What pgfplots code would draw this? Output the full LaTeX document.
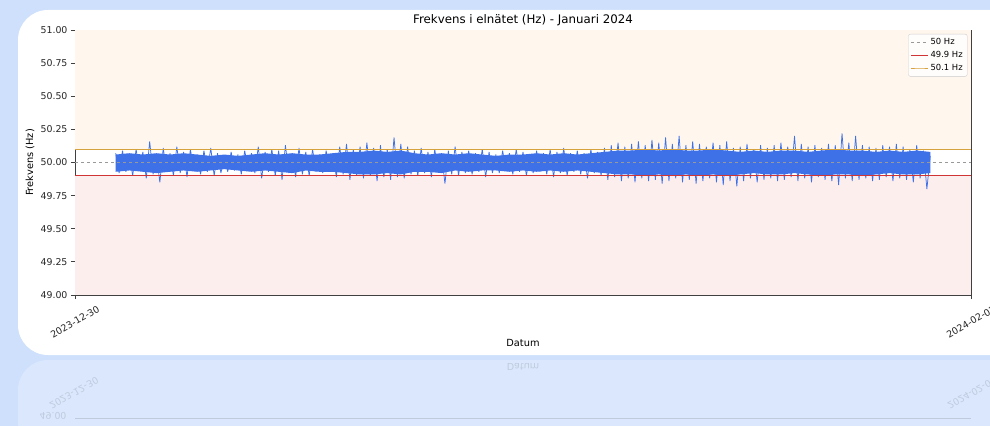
\documentclass[border=0pt]{standalone}
\usepackage{pgfplots}
\pgfplotsset{compat=1.18}
\usepackage{fontspec}
\setmainfont{DejaVu Sans}
\definecolor{bgblue}{RGB}{206,224,252}
\definecolor{dataline}{RGB}{62,112,232}
\definecolor{hiband}{RGB}{255,247,237}
\definecolor{loband}{RGB}{253,238,238}
\definecolor{hiline}{RGB}{214,162,62}
\definecolor{loline}{RGB}{208,52,52}
\begin{document}
\begin{tikzpicture}[x=1pt,y=1pt]
\path[use as bounding box] (0,0) rectangle (990,426);
\fill[bgblue] (0,0) rectangle (990,426);
\fill[white, opacity=0.25, rounded corners=30pt] (18,-60) rectangle (1020,66);
\fill[white, rounded corners=30pt] (18,71) rectangle (1020,416);
\begin{scope}[opacity=0.12]
  \node[yscale=-1, font=\fontsize{9.6}{11}\selectfont] at (523,59) {Datum};
  \node[yscale=-1, rotate=-30, font=\fontsize{9.4}{11}\selectfont] at (74,33) {2023-12-30};
  \node[yscale=-1, rotate=-30, font=\fontsize{9.4}{11}\selectfont] at (972,33) {2024-02-01};
  \node[yscale=-1, font=\fontsize{9.4}{11}\selectfont, anchor=east] at (70,10) {49.00};
  \draw[black, line width=0.8pt] (75,8) -- (971,8);
\end{scope}
\begin{axis}[
  at={(75pt,131pt)}, anchor=south west,
  scale only axis, width=896pt, height=265pt,
  xmin=0, xmax=33, ymin=49, ymax=51,
  xtick={0,33}, xticklabels={2023-12-30,2024-02-01},
  ytick={49,49.25,49.5,49.75,50,50.25,50.5,50.75,51},
  yticklabel style={/pgf/number format/.cd, fixed, fixed zerofill, precision=2, assume math mode=true},
  ticklabel style={font=\fontsize{9.4}{11}\selectfont, text=black!85},
  xticklabel style={rotate=30, anchor=center, xshift=-11.5pt, yshift=-19.9pt},
  tick align=outside, xtick pos=lower, ytick pos=left,
  major tick length=4pt,
  tick style={black!75, line width=0.8pt},
  axis line style={black!75, line width=0.8pt},
  title={Frekvens i elnätet (Hz) - Januari 2024},
  title style={at={(axis description cs:0.5,1)}, anchor=center, yshift=4pt, font=\fontsize{11.8}{13}\selectfont},
  xlabel={Datum},
  xlabel style={at={(axis description cs:0.5,0)}, anchor=center, yshift=-48pt, font=\fontsize{9.8}{11}\selectfont},
  ylabel={Frekvens (Hz)},
  ylabel style={at={(axis description cs:-0.0502,0.5)}, anchor=center, font=\fontsize{9.8}{11}\selectfont},
  legend style={at={(axis description cs:0.996,0.985)}, anchor=north east,
    font=\fontsize{8.4}{10}\selectfont, draw=black!20, rounded corners=2pt,
    fill=white, fill opacity=0.85, text opacity=1, row sep=1pt,
    inner sep=2.5pt},
  legend cell align=left,
]
\addplot[draw=none, fill=hiband, forget plot] coordinates {(0,50.1) (33,50.1) (33,51) (0,51)} -- cycle;
\addplot[draw=none, fill=loband, forget plot] coordinates {(0,49) (33,49) (33,49.9) (0,49.9)} -- cycle;
% dense core of the signal: upper envelope left to right, lower envelope right to left
\addplot[draw=none, fill=dataline, forget plot] coordinates {
(1.5,50.06)(2,50.07)(2.5,50.06)(3,50.07)(3.5,50.06)(4,50.07)(4.5,50.06)(5,50.05)(5.5,50.06)(6,50.05)
(6.5,50.06)(7,50.07)(7.5,50.06)(8,50.07)(8.5,50.06)(9,50.06)(9.5,50.07)(10,50.08)(10.5,50.08)(11,50.09)
(11.5,50.08)(12,50.09)(12.5,50.07)(13,50.06)(13.5,50.07)(14,50.06)(14.5,50.07)(15,50.06)(15.5,50.05)(16,50.06)
(16.5,50.06)(17,50.07)(17.5,50.06)(18,50.07)(18.5,50.06)(19,50.07)(19.5,50.08)(20,50.09)(20.5,50.09)(21,50.10)
(21.5,50.09)(22,50.10)(22.5,50.09)(23,50.09)(23.5,50.10)(24,50.09)(24.5,50.08)(25,50.09)(25.5,50.08)(26,50.09)
(26.5,50.09)(27,50.08)(27.5,50.09)(28,50.10)(28.5,50.09)(29,50.09)(29.5,50.08)(30,50.09)(30.5,50.08)(31,50.09)(31.5,50.08)
(31.5,49.92)(31,49.91)(30.5,49.91)(30,49.92)(29.5,49.91)(29,49.90)(28.5,49.91)(28,49.91)(27.5,49.90)(27,49.91)
(26.5,49.92)(26,49.91)(25.5,49.91)(25,49.92)(24.5,49.91)(24,49.90)(23.5,49.91)(23,49.90)(22.5,49.91)(22,49.90)
(21.5,49.91)(21,49.90)(20.5,49.91)(20,49.91)(19.5,49.92)(19,49.93)(18.5,49.94)(18,49.93)(17.5,49.94)(17,49.93)
(16.5,49.94)(16,49.93)(15.5,49.94)(15,49.94)(14.5,49.93)(14,49.94)(13.5,49.92)(13,49.93)(12.5,49.93)(12,49.91)
(11.5,49.92)(11,49.91)(10.5,49.91)(10,49.92)(9.5,49.93)(9,49.93)(8.5,49.94)(8,49.92)(7.5,49.93)(7,49.94)
(6.5,49.93)(6,49.94)(5.5,49.95)(5,49.94)(4.5,49.93)(4,49.94)(3.5,49.93)(3,49.92)(2.5,49.93)(2,49.94)(1.5,49.93)
} -- cycle;
\addplot[dataline, line width=0.75pt, line join=bevel, forget plot] coordinates {
(1.5,50.07)(1.625,49.92)(1.75,50.09)(1.875,49.93)(2,50.05)(2.125,49.90)(2.25,50.10)(2.375,49.94)
(2.5,50.08)(2.625,49.88)(2.75,50.16)(2.875,49.91)(3,50.06)(3.125,49.85)(3.25,50.11)(3.375,49.93)
(3.5,50.07)(3.625,49.90)(3.75,50.12)(3.875,49.92)(4,50.08)(4.125,49.89)(4.25,50.10)(4.375,49.94)
(4.5,50.06)(4.625,49.91)(4.75,50.09)(4.875,49.93)(5,50.11)(5.125,49.90)(5.25,50.07)(5.375,49.92)
(5.5,50.05)(5.625,49.93)(5.75,50.08)(5.875,49.94)(6,50.06)(6.125,49.91)(6.25,50.09)(6.375,49.95)
(6.5,50.07)(6.625,49.92)(6.75,50.12)(6.875,49.88)(7,50.08)(7.125,49.93)(7.25,50.10)(7.375,49.90)
(7.5,50.09)(7.625,49.87)(7.75,50.13)(7.875,49.92)(8,50.07)(8.125,49.89)(8.25,50.11)(8.375,49.91)
(8.5,50.08)(8.625,49.90)(8.75,50.10)(8.875,49.93)(9,50.06)(9.125,49.92)(9.25,50.09)(9.375,49.94)
(9.5,50.07)(9.625,49.89)(9.75,50.12)(9.875,49.91)(10,50.14)(10.125,49.87)(10.25,50.10)(10.375,49.90)
(10.5,50.12)(10.625,49.88)(10.75,50.15)(10.875,49.90)(11,50.11)(11.125,49.86)(11.25,50.13)(11.375,49.89)
(11.5,50.10)(11.625,49.87)(11.75,50.19)(11.875,49.89)(12,50.14)(12.125,49.88)(12.25,50.12)(12.375,49.91)
(12.5,50.09)(12.625,49.90)(12.75,50.11)(12.875,49.92)(13,50.08)(13.125,49.89)(13.25,50.10)(13.375,49.93)
(13.5,50.07)(13.625,49.84)(13.75,50.09)(13.875,49.91)(14,50.12)(14.125,49.90)(14.25,50.08)(14.375,49.92)
(14.5,50.09)(14.625,49.91)(14.75,50.07)(14.875,49.93)(15,50.10)(15.125,49.89)(15.25,50.08)(15.375,49.92)
(15.5,50.06)(15.625,49.92)(15.75,50.09)(15.875,49.94)(16,50.07)(16.125,49.91)(16.25,50.10)(16.375,49.93)
(16.5,50.08)(16.625,49.90)(16.75,50.06)(16.875,49.92)(17,50.09)(17.125,49.93)(17.25,50.07)(17.375,49.91)
(17.5,50.10)(17.625,49.89)(17.75,50.08)(17.875,49.92)(18,50.11)(18.125,49.90)(18.25,50.07)(18.375,49.93)
(18.5,50.09)(18.625,49.91)(18.75,50.07)(18.875,49.88)(19,50.10)(19.125,49.92)(19.25,50.08)(19.375,49.90)
(19.5,50.11)(19.625,49.87)(19.75,50.13)(19.875,49.89)(20,50.15)(20.125,49.86)(20.25,50.12)(20.375,49.88)
(20.5,50.14)(20.625,49.85)(20.75,50.16)(20.875,49.88)(21,50.13)(21.125,49.86)(21.25,50.17)(21.375,49.87)
(21.5,50.15)(21.625,49.84)(21.75,50.19)(21.875,49.86)(22,50.14)(22.125,49.88)(22.25,50.20)(22.375,49.85)
(22.5,50.13)(22.625,49.87)(22.75,50.16)(22.875,49.84)(23,50.14)(23.125,49.86)(23.25,50.12)(23.375,49.88)
(23.5,50.15)(23.625,49.85)(23.75,50.13)(23.875,49.83)(24,50.16)(24.125,49.86)(24.25,50.11)(24.375,49.82)
(24.5,50.12)(24.625,49.86)(24.75,50.14)(24.875,49.88)(25,50.10)(25.125,49.85)(25.25,50.13)(25.375,49.87)
(25.5,50.11)(25.625,49.88)(25.75,50.13)(25.875,49.86)(26,50.15)(26.125,49.87)(26.25,50.12)(26.375,49.89)
(26.5,50.20)(26.625,49.86)(26.75,50.14)(26.875,49.88)(27,50.12)(27.125,49.85)(27.25,50.13)(27.375,49.89)
(27.5,50.11)(27.625,49.87)(27.75,50.14)(27.875,49.86)(28,50.13)(28.125,49.83)(28.25,50.22)(28.375,49.88)
(28.5,50.15)(28.625,49.86)(28.75,50.20)(28.875,49.87)(29,50.13)(29.125,49.88)(29.25,50.12)(29.375,49.86)
(29.5,50.11)(29.625,49.87)(29.75,50.13)(29.875,49.89)(30,50.12)(30.125,49.86)(30.25,50.14)(30.375,49.88)
(30.5,50.12)(30.625,49.87)(30.75,50.10)(30.875,49.85)(31,50.13)(31.125,49.88)(31.25,50.09)(31.375,49.80)
(31.5,50.05)
};
\addplot[gray!80, dashed, line width=0.6pt] coordinates {(0,50) (33,50)};
\addlegendentry{50 Hz}
\addplot[loline, line width=0.6pt] coordinates {(0,49.9) (33,49.9)};
\addlegendentry{49.9 Hz}
\addplot[hiline, line width=0.6pt] coordinates {(0,50.1) (33,50.1)};
\addlegendentry{50.1 Hz}
\end{axis}
\end{tikzpicture}
\end{document}
